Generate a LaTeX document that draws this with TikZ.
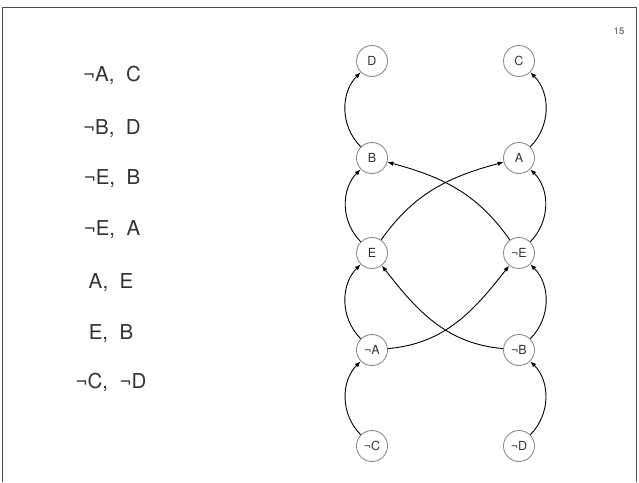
\documentclass[tikz,border=0pt]{standalone}
\usepackage{fontspec}
\setmainfont{TeX Gyre Heros}
\usetikzlibrary{arrows.meta}
\begin{document}
\begin{tikzpicture}[x=1pt,y=-1pt,
  lit/.style={circle,draw=black!45,line width=0.9pt,minimum size=31pt,inner sep=0pt,font=\fontsize{12.5}{14}\selectfont,text=black!80},
  clause/.style={font=\fontsize{20.5}{24}\selectfont,text=black!80},
  imp/.style={-{Latex[length=6pt,width=4.5pt]},line width=0.9pt,black}]
\useasboundingbox (0,0) rectangle (639,482);
\draw[black!70,line width=1pt] (2,482) coordinate (fl) -- (2,7) -- (636,7) -- (636,482);
\node[font=\fontsize{9.5}{11}\selectfont,text=black!70] (pg) at (619,31) {15};
% clauses
\node[clause] (c1) at (112,75) {¬A,\ \ C};
\node[clause] (c2) at (112,129) {¬B,\ \ D};
\node[clause] (c3) at (112,179) {¬E,\ \ B};
\node[clause] (c4) at (112,230) {¬E,\ \ A};
\node[clause] (c5) at (111,283) {A,\ \ E};
\node[clause] (c6) at (111,334) {E,\ \ B};
\node[clause] (c7) at (111,382) {¬C,\ \ ¬D};
% literals
\node[lit] (D) at (372,61) {D};
\node[lit] (C) at (519,61) {C};
\node[lit] (B) at (372,158) {B};
\node[lit] (A) at (519,158) {A};
\node[lit] (E) at (372,253) {E};
\node[lit] (nE) at (519,253) {¬E};
\node[lit] (nA) at (372,350) {¬A};
\node[lit] (nB) at (519,350) {¬B};
\node[lit] (nC) at (372,446) {¬C};
\node[lit] (nD) at (519,446) {¬D};
% side edges
\draw[imp] (B) to[out=135,in=225] (D);
\draw[imp] (E) to[out=135,in=225] (B);
\draw[imp] (nA) to[out=135,in=225] (E);
\draw[imp] (nC) to[out=135,in=225] (nA);
\draw[imp] (A) to[out=45,in=-45] (C);
\draw[imp] (nE) to[out=45,in=-45] (A);
\draw[imp] (nB) to[out=45,in=-45] (nE);
\draw[imp] (nD) to[out=45,in=-45] (nB);
% crossing edges
\draw[imp] (E) to[out=55,in=195] (A);
\draw[imp] (nE) to[out=125,in=-15] (B);
\draw[imp] (nA) to[out=5,in=232] (nE);
\draw[imp] (nB) to[out=175,in=-52] (E);
\end{tikzpicture}
\end{document}
